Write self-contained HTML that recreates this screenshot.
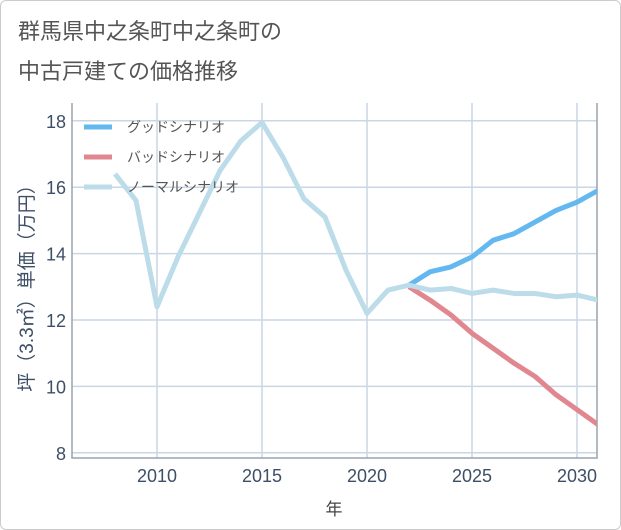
<!DOCTYPE html>
<html><head><meta charset="utf-8"><style>
body{margin:0;background:#fff;font-family:"Liberation Sans","Noto Sans CJK JP",sans-serif}
#wrap{position:relative;width:619px;height:528px;border:1px solid #ccc;border-radius:6px;overflow:hidden}
</style></head><body>
<div id="wrap">
<svg id="chart" width="619" height="528">
<text x="17" y="38" font-size="22" fill="#555">群馬県中之条町中之条町の</text>
<text x="17" y="78" font-size="22" fill="#555">中古戸建ての価格推移</text>
</svg>
</div>
<script>
const years=[2008,2009,2010,2011,2012,2013,2014,2015,2016,2017,2018,2019,2020,2021,2022,2023,2024,2025,2026,2027,2028,2029,2030,2031];
const normal=[16.4,15.6,12.4,13.9,15.2,16.5,17.4,17.95,16.9,15.65,15.1,13.5,12.2,12.9,13.05,12.9,12.95,12.8,12.9,12.8,12.8,12.7,12.75,12.6];
const goodYears=[2022,2023,2024,2025,2026,2027,2028,2029,2030,2031];
const good=[13.05,13.45,13.6,13.9,14.4,14.6,14.95,15.3,15.55,15.9];
const bad=[13.0,12.6,12.15,11.6,11.15,10.7,10.3,9.75,9.3,8.85];
const yTicks=[8,10,12,14,16,18];
const xTicks=[2010,2015,2020,2025,2030];
const NS="http://www.w3.org/2000/svg",svg=document.getElementById('chart');
const L=71,R=596,T=102,B=457;
const x=v=>156+(v-2010)*21, y=v=>319-(v-12)*33.2;
function mk(t,a){const e=document.createElementNS(NS,t);for(const k in a)e.setAttribute(k,a[k]);svg.appendChild(e);return e;}
const clip=mk('clipPath',{id:'c'});const cr=document.createElementNS(NS,'rect');cr.setAttribute('x',L);cr.setAttribute('y',T);cr.setAttribute('width',R-L);cr.setAttribute('height',B-T);clip.appendChild(cr);
yTicks.forEach(v=>{const g=mk('line',{x1:L,x2:R,y1:y(v),y2:y(v),stroke:'#c9d6e3','stroke-width':1.5});


const t=mk('text',{x:L-6,y:y(v)+7,'text-anchor':'end','font-size':18,fill:'#3d4f66'});t.textContent=v;

});
xTicks.forEach(v=>{const g=mk('line',{x1:x(v),x2:x(v),y1:T,y2:B,stroke:'#c9d6e3','stroke-width':1.5});


const t=mk('text',{x:x(v),y:B+24,'text-anchor':'middle','font-size':18,fill:'#3d4f66'});t.textContent=v;

});
const ax=mk('path',{d:`M${L} ${T}V${B}H${R}V${T}`,fill:'none',stroke:'#9aa3ad','stroke-width':1.5});


function line(xs,vs,c,n){const p=mk('polyline',{points:xs.map((v,i)=>x(v)+','+y(vs[i])).join(' '),fill:'none',stroke:c,'stroke-width':5,'stroke-linejoin':'round','clip-path':'url(#c)'});

}
line(goodYears,good,'#63b8f0','good-scenario-line');
line(goodYears,bad,'#e0878f','bad-scenario-line');
line(years,normal,'#bcdcea','normal-scenario-line');
const lg=[['グッドシナリオ','#63b8f0'],['バッドシナリオ','#e0878f'],['ノーマルシナリオ','#bcdcea']];
lg.forEach((d,i)=>{const yy=126+i*30;
const s=mk('line',{x1:83,x2:111,y1:yy,y2:yy,stroke:d[1],'stroke-width':5});


const t=mk('text',{x:126,y:yy+5,'font-size':14,fill:'#555'});t.textContent=d[0];

});
const xt=mk('text',{x:333,y:514,'text-anchor':'middle','font-size':17,fill:'#444'});xt.textContent='年';


const yt=mk('text',{x:0,y:0,'text-anchor':'middle','font-size':19,fill:'#3d4f66',transform:`translate(32,${(T+B)/2+3}) rotate(-90)`});yt.textContent='坪（3.3㎡）単価（万円）';


</script>
</body></html>
